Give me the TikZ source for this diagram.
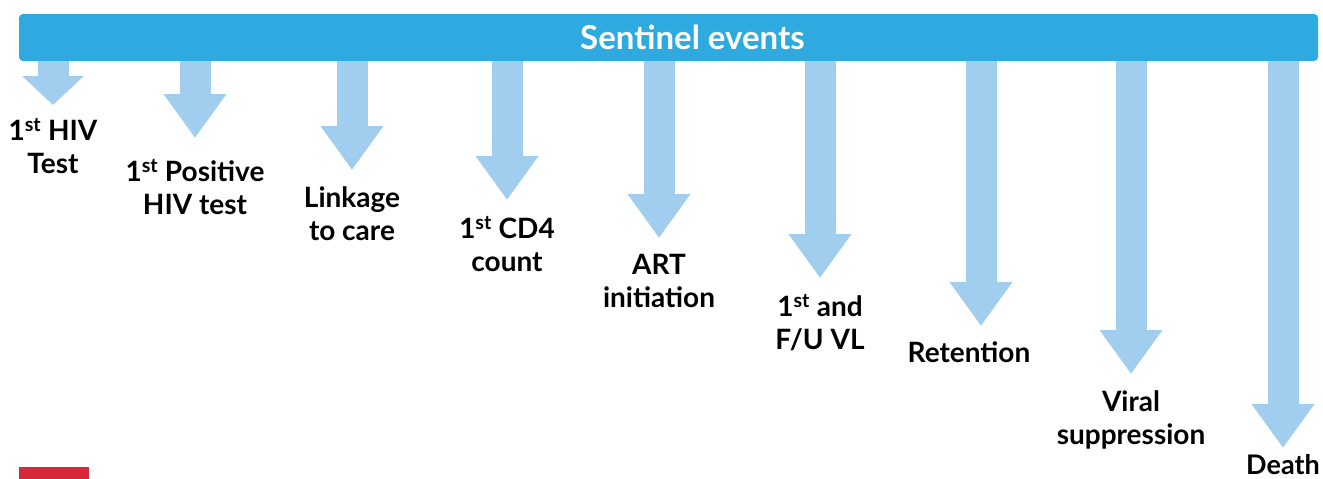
\documentclass[tikz,border=0pt]{standalone}
\usepackage{fontspec}
\setmainfont{Lato}
\usetikzlibrary{arrows.meta,positioning}
\definecolor{barblue}{RGB}{46,170,225}
\definecolor{arrowblue}{RGB}{161,206,238}
\definecolor{logored}{RGB}{213,40,58}

\begin{document}
\begin{tikzpicture}[x=1pt, y=-1pt,
      lbl/.style={font=\fontsize{28}{33}\selectfont\bfseries, align=center, anchor=north, inner sep=0pt},
      ev/.style={line width=31pt, arrowblue, shorten >=16pt, -{Triangle[length=44pt, width=60pt]}}]
    \useasboundingbox (0,0) rectangle (1323,479);
    \node[fill=barblue, rounded corners=4pt, minimum width=1299pt, minimum height=47pt, inner sep=0pt] (bar) at (668.5,37.5) {};
    \node[text=white, font=\fontsize{33}{38}\selectfont\bfseries, inner sep=0pt] (bartitle) at ([xshift=24pt]bar.center) {Sentinel events};
    % events
    \node[lbl] (firsttest) at (53,118) {1\textsuperscript{st} HIV\\Test};
    \node[lbl] (firstpos) at (195,159) {1\textsuperscript{st} Positive\\HIV test};
    \node[lbl] (linkage) at (352,186) {Linkage\\to care};
    \node[lbl] (cd4) at (507,216) {1\textsuperscript{st} CD4\\count};
    \node[lbl] (art) at (659,254) {ART\\initiation};
    \node[lbl] (vl) at (820,294) {1\textsuperscript{st} and\\F/U VL};
    \node[lbl] (retention) at (969,341) {Retention};
    \node[lbl] (suppression) at (1131,390) {Viral\\suppression};
    \node[lbl, font=\fontsize{27}{33}\selectfont\bfseries] (death) at (1283,454) {Death};
    % arrows from the bar
    \draw[ev, shorten >=13pt, -{Triangle[length=29pt, width=60pt]}] (bar.south -| firsttest.north) -- (firsttest.north);
    \draw[ev, shorten >=21pt] (bar.south -| firstpos.north) -- (firstpos.north);
    \draw[ev] (bar.south -| linkage.north) -- (linkage.north);
    \draw[ev] (bar.south -| cd4.north) -- (cd4.north);
    \draw[ev] (bar.south -| art.north) -- (art.north);
    \draw[ev] (bar.south -| vl.north) -- (vl.north);
    \draw[ev, shorten >=15pt] ([xshift=12pt]bar.south -| retention.north) -- ([xshift=12pt]retention.north);
    \draw[ev] (bar.south -| suppression.north) -- (suppression.north);
    \draw[ev, shorten >=6pt] (bar.south -| death.north) -- (death.north);
    \fill[logored] (19,467) rectangle (89,485);
  \end{tikzpicture}
\end{document}
